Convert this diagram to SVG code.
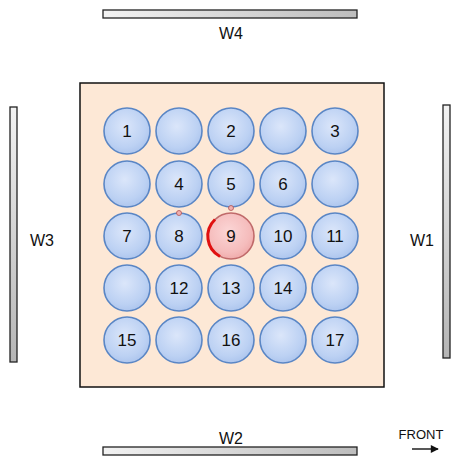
<svg xmlns="http://www.w3.org/2000/svg" width="452" height="458" viewBox="0 0 452 458">
<style>
text{font-family:"Liberation Sans",Arial,sans-serif;fill:#111}
.lbl{font-size:16px;text-anchor:middle}
.num{font-size:17px;text-anchor:middle}
.c{fill:url(#gb);stroke:#5a86c5;stroke-width:1.6}
.wall{stroke:#222;stroke-width:1.3}
</style>
<defs>
<radialGradient id="gb" cx="0.45" cy="0.4" r="0.65">
<stop offset="0" stop-color="#dbe6fa"/><stop offset="0.7" stop-color="#bcd1f3"/><stop offset="1" stop-color="#a9c2ec"/>
</radialGradient>
<radialGradient id="gr" cx="0.45" cy="0.4" r="0.65">
<stop offset="0" stop-color="#fbd6d6"/><stop offset="0.7" stop-color="#f5bcbc"/><stop offset="1" stop-color="#eea6a6"/>
</radialGradient>
<linearGradient id="wh" x1="0" y1="0" x2="1" y2="0">
<stop offset="0" stop-color="#f2f2f2"/><stop offset="1" stop-color="#bdbdbd"/>
</linearGradient>
<linearGradient id="wv" x1="0" y1="0" x2="0" y2="1">
<stop offset="0" stop-color="#f2f2f2"/><stop offset="1" stop-color="#b5b5b5"/>
</linearGradient>
<marker id="ah" viewBox="0 0 10 10" refX="9" refY="5" markerWidth="9" markerHeight="8" orient="auto" markerUnits="userSpaceOnUse"><path d="M0,0 L10,5 L0,10 z" fill="#111"/></marker>
</defs>
<rect width="452" height="458" fill="#fff"/>
<g id="walls">
<g id="W4"><rect class="wall" x="103" y="10" width="254" height="8" fill="url(#wh)"/><text class="lbl" x="231" y="39">W4</text></g>
<g id="W2"><rect class="wall" x="103" y="447" width="254" height="8" fill="url(#wh)"/><text class="lbl" x="231" y="444">W2</text></g>
<g id="W3"><rect class="wall" x="10" y="107" width="7" height="255" fill="url(#wv)"/><text class="lbl" x="42" y="246">W3</text></g>
<g id="W1"><rect class="wall" x="443" y="105" width="7" height="253" fill="url(#wv)"/><text class="lbl" x="422" y="246">W1</text></g>
</g>
<g id="front"><text x="421" y="439" font-size="13" text-anchor="middle">FRONT</text></g>
<g id="connectors"><line x1="412" y1="449" x2="438" y2="449" stroke="#111" stroke-width="1.4" marker-end="url(#ah)"/></g>
<g id="box"><rect x="80" y="83" width="304" height="304" fill="#fde8d6" stroke="#111" stroke-width="1.5"/></g>
<g id="n1"><circle class="c" cx="127" cy="131" r="23"/><text class="num" x="127" y="137">1</text></g>
<g id="n1b"><circle class="c" cx="179" cy="131" r="23"/></g>
<g id="n2"><circle class="c" cx="231" cy="131" r="23"/><text class="num" x="231" y="137">2</text></g>
<g id="n2b"><circle class="c" cx="283" cy="131" r="23"/></g>
<g id="n3"><circle class="c" cx="335" cy="131" r="23"/><text class="num" x="335" y="137">3</text></g>
<g id="n4a"><circle class="c" cx="127" cy="184" r="23"/></g>
<g id="n4"><circle class="c" cx="179" cy="184" r="23"/><text class="num" x="179" y="190">4</text></g>
<g id="n5"><circle class="c" cx="231" cy="184" r="23"/><text class="num" x="231" y="190">5</text></g>
<g id="n6"><circle class="c" cx="283" cy="184" r="23"/><text class="num" x="283" y="190">6</text></g>
<g id="n6b"><circle class="c" cx="335" cy="184" r="23"/></g>
<g id="n7"><circle class="c" cx="127" cy="236" r="23"/><text class="num" x="127" y="242">7</text></g>
<g id="n8"><circle class="c" cx="179" cy="236" r="23"/><text class="num" x="179" y="242">8</text><circle cx="179" cy="213" r="2.5" fill="#f0b0b0" stroke="#b05050" stroke-width="0.8"/></g>
<g id="n9"><circle cx="231" cy="236" r="23" fill="url(#gr)" stroke="#c06a6a" stroke-width="1.6"/><path d="M215,219.5 A23,23 0 0 0 220,256.5" fill="none" stroke="#e01010" stroke-width="3"/><text class="num" x="231" y="242">9</text><circle cx="231" cy="208" r="2.5" fill="#f0b0b0" stroke="#b05050" stroke-width="0.8"/></g>
<g id="n10"><circle class="c" cx="283" cy="236" r="23"/><text class="num" x="283" y="242">10</text></g>
<g id="n11"><circle class="c" cx="335" cy="236" r="23"/><text class="num" x="335" y="242">11</text></g>
<g id="n12a"><circle class="c" cx="127" cy="288" r="23"/></g>
<g id="n12"><circle class="c" cx="179" cy="288" r="23"/><text class="num" x="179" y="294">12</text></g>
<g id="n13"><circle class="c" cx="231" cy="288" r="23"/><text class="num" x="231" y="294">13</text></g>
<g id="n14"><circle class="c" cx="283" cy="288" r="23"/><text class="num" x="283" y="294">14</text></g>
<g id="n14b"><circle class="c" cx="335" cy="288" r="23"/></g>
<g id="n15"><circle class="c" cx="127" cy="340" r="23"/><text class="num" x="127" y="346">15</text></g>
<g id="n15b"><circle class="c" cx="179" cy="340" r="23"/></g>
<g id="n16"><circle class="c" cx="231" cy="340" r="23"/><text class="num" x="231" y="346">16</text></g>
<g id="n16b"><circle class="c" cx="283" cy="340" r="23"/></g>
<g id="n17"><circle class="c" cx="335" cy="340" r="23"/><text class="num" x="335" y="346">17</text></g>
</svg>
